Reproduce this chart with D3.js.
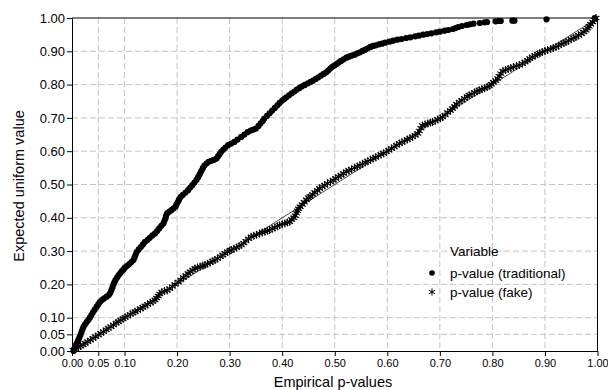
<!DOCTYPE html>
<html>
<head>
<meta charset="utf-8">
<script src="https://cdn.jsdelivr.net/npm/d3@7"></script>
<style>
	body { margin: 0; background: #fff; }
	svg { display: block; font-family: "Liberation Sans", Arial, sans-serif; }
</style>
</head>
<body>
<div id="chart"></div>
<script>
// tick values shared by both axes
const tickValues = [0, 0.05, 0.1, 0.2, 0.3, 0.4, 0.5, 0.6, 0.7, 0.8, 0.9, 1.0];

const seriesNames = ["p-value (traditional)", "p-value (fake)"];

// [empirical p-value, expected uniform value]
const traditional = [
	[0.003,0.000],[0.004,0.006],[0.006,0.012],[0.008,0.019],[0.010,0.026],[0.012,0.033],
	[0.014,0.040],[0.016,0.048],[0.018,0.057],[0.020,0.065],[0.022,0.073],[0.025,0.080],
	[0.028,0.087],[0.031,0.093],[0.034,0.100],[0.037,0.108],[0.040,0.116],[0.043,0.124],
	[0.047,0.133],[0.050,0.140],[0.053,0.147],[0.057,0.153],[0.061,0.158],[0.066,0.163],
	[0.070,0.168],[0.073,0.175],[0.075,0.183],[0.077,0.191],[0.079,0.200],[0.081,0.207],
	[0.083,0.214],[0.086,0.221],[0.089,0.228],[0.092,0.234],[0.095,0.240],[0.098,0.245],
	[0.101,0.251],[0.105,0.256],[0.109,0.261],[0.113,0.267],[0.117,0.273],[0.119,0.281],
	[0.121,0.289],[0.123,0.297],[0.127,0.305],[0.131,0.312],[0.135,0.320],[0.139,0.328],
	[0.144,0.334],[0.148,0.340],[0.153,0.347],[0.158,0.353],[0.162,0.360],[0.166,0.368],
	[0.170,0.376],[0.174,0.383],[0.176,0.391],[0.178,0.399],[0.179,0.406],[0.181,0.413],
	[0.185,0.418],[0.189,0.423],[0.193,0.428],[0.197,0.433],[0.199,0.441],[0.202,0.449],
	[0.204,0.456],[0.207,0.463],[0.211,0.469],[0.216,0.476],[0.221,0.483],[0.225,0.491],
	[0.229,0.498],[0.233,0.506],[0.237,0.514],[0.240,0.522],[0.243,0.531],[0.246,0.540],
	[0.249,0.549],[0.252,0.557],[0.256,0.563],[0.260,0.568],[0.265,0.571],[0.270,0.574],
	[0.275,0.578],[0.278,0.585],[0.281,0.591],[0.284,0.598],[0.288,0.605],[0.292,0.611],
	[0.297,0.618],[0.303,0.623],[0.309,0.628],[0.315,0.635],[0.322,0.643],[0.328,0.650],
	[0.334,0.657],[0.340,0.662],[0.345,0.665],[0.350,0.668],[0.355,0.676],[0.359,0.684],
	[0.363,0.691],[0.366,0.698],[0.371,0.706],[0.376,0.714],[0.381,0.722],[0.386,0.730],
	[0.391,0.738],[0.395,0.745],[0.400,0.752],[0.404,0.757],[0.408,0.762],[0.413,0.768],
	[0.418,0.774],[0.423,0.779],[0.428,0.785],[0.433,0.790],[0.438,0.795],[0.443,0.799],
	[0.449,0.804],[0.454,0.808],[0.459,0.812],[0.464,0.817],[0.469,0.822],[0.474,0.827],
	[0.479,0.832],[0.484,0.837],[0.488,0.843],[0.492,0.849],[0.496,0.854],[0.500,0.858],
	[0.504,0.862],[0.508,0.867],[0.512,0.871],[0.517,0.876],[0.522,0.881],[0.527,0.884],
	[0.532,0.887],[0.538,0.890],[0.543,0.894],[0.548,0.897],[0.553,0.901],[0.558,0.905],
	[0.563,0.909],[0.568,0.913],[0.573,0.916],[0.578,0.918],[0.584,0.921],[0.590,0.923],
	[0.596,0.926],[0.604,0.929],[0.611,0.932],[0.619,0.935],[0.627,0.937],[0.636,0.940],
	[0.644,0.942],[0.653,0.945],[0.660,0.947],[0.668,0.950],[0.676,0.952],[0.684,0.954],
	[0.693,0.957],[0.700,0.959],[0.709,0.962],[0.716,0.964],[0.725,0.967],[0.730,0.970],
	[0.735,0.973],[0.742,0.976],[0.751,0.979],[0.757,0.981],[0.764,0.983],[0.776,0.985],
	[0.785,0.987],[0.790,0.988],[0.806,0.990],[0.812,0.991],[0.816,0.991],[0.838,0.992],
	[0.842,0.992],[0.903,0.996],[0.995,1.000]
];

const fake = [
	[0.002,0.003],[0.007,0.007],[0.012,0.011],[0.016,0.015],[0.021,0.019],[0.025,0.023],
	[0.030,0.028],[0.035,0.033],[0.040,0.038],[0.045,0.043],[0.050,0.048],[0.055,0.053],
	[0.060,0.058],[0.065,0.064],[0.069,0.068],[0.074,0.073],[0.079,0.078],[0.084,0.084],
	[0.088,0.088],[0.093,0.093],[0.097,0.097],[0.101,0.101],[0.106,0.105],[0.111,0.110],
	[0.116,0.114],[0.120,0.118],[0.125,0.122],[0.130,0.127],[0.135,0.131],[0.139,0.135],
	[0.144,0.140],[0.149,0.145],[0.154,0.149],[0.158,0.153],[0.161,0.159],[0.164,0.165],
	[0.167,0.171],[0.171,0.177],[0.176,0.180],[0.181,0.182],[0.186,0.187],[0.191,0.194],
	[0.196,0.200],[0.202,0.207],[0.207,0.214],[0.212,0.221],[0.217,0.227],[0.221,0.233],
	[0.225,0.238],[0.230,0.243],[0.234,0.248],[0.239,0.251],[0.244,0.253],[0.249,0.256],
	[0.253,0.258],[0.258,0.262],[0.263,0.266],[0.268,0.270],[0.272,0.273],[0.277,0.278],
	[0.282,0.283],[0.287,0.288],[0.291,0.293],[0.296,0.298],[0.300,0.301],[0.303,0.303],
	[0.308,0.307],[0.313,0.311],[0.318,0.315],[0.322,0.318],[0.327,0.324],[0.331,0.330],
	[0.336,0.337],[0.341,0.343],[0.346,0.346],[0.351,0.349],[0.357,0.353],[0.362,0.356],
	[0.367,0.358],[0.372,0.361],[0.376,0.363],[0.381,0.367],[0.386,0.371],[0.391,0.375],
	[0.395,0.378],[0.400,0.381],[0.405,0.383],[0.410,0.386],[0.414,0.388],[0.418,0.395],
	[0.422,0.400],[0.425,0.406],[0.427,0.414],[0.429,0.421],[0.431,0.427],[0.434,0.433],
	[0.438,0.440],[0.442,0.447],[0.446,0.454],[0.450,0.460],[0.453,0.464],[0.458,0.470],
	[0.462,0.476],[0.467,0.482],[0.471,0.488],[0.476,0.493],[0.481,0.498],[0.486,0.503],
	[0.492,0.508],[0.497,0.513],[0.502,0.518],[0.507,0.523],[0.512,0.528],[0.517,0.533],
	[0.522,0.538],[0.527,0.542],[0.532,0.546],[0.538,0.550],[0.543,0.554],[0.548,0.558],
	[0.553,0.562],[0.558,0.566],[0.563,0.570],[0.568,0.574],[0.573,0.578],[0.578,0.582],
	[0.583,0.586],[0.588,0.590],[0.593,0.594],[0.598,0.598],[0.603,0.603],[0.608,0.608],
	[0.613,0.613],[0.618,0.618],[0.623,0.623],[0.628,0.627],[0.633,0.631],[0.638,0.635],
	[0.643,0.639],[0.648,0.643],[0.653,0.648],[0.658,0.653],[0.661,0.661],[0.664,0.669],
	[0.667,0.677],[0.672,0.680],[0.677,0.683],[0.682,0.686],[0.686,0.688],[0.691,0.691],
	[0.696,0.695],[0.701,0.699],[0.705,0.703],[0.710,0.709],[0.715,0.716],[0.720,0.722],
	[0.724,0.728],[0.728,0.734],[0.732,0.741],[0.737,0.748],[0.742,0.753],[0.747,0.758],
	[0.752,0.764],[0.756,0.768],[0.761,0.772],[0.766,0.776],[0.771,0.780],[0.775,0.783],
	[0.780,0.786],[0.785,0.789],[0.790,0.793],[0.794,0.796],[0.798,0.801],[0.802,0.807],
	[0.806,0.812],[0.810,0.818],[0.813,0.825],[0.816,0.833],[0.820,0.841],[0.825,0.844],
	[0.830,0.847],[0.835,0.850],[0.840,0.853],[0.846,0.856],[0.851,0.859],[0.857,0.863],
	[0.862,0.868],[0.867,0.873],[0.871,0.878],[0.876,0.883],[0.881,0.887],[0.886,0.891],
	[0.890,0.894],[0.895,0.898],[0.900,0.901],[0.905,0.904],[0.911,0.907],[0.916,0.910],
	[0.921,0.913],[0.926,0.917],[0.931,0.921],[0.936,0.925],[0.940,0.928],[0.945,0.932],
	[0.950,0.936],[0.955,0.940],[0.959,0.943],[0.964,0.948],[0.969,0.953],[0.974,0.958],
	[0.978,0.963],[0.981,0.969],[0.984,0.975],[0.987,0.981],[0.991,0.988],[0.994,0.994],
	[0.997,1.000]
];

// thin reference line y = x
const refLine = [[0, 0], [1, 1]];

const width = 608, height = 390;
const plotLeft = 72, plotRight = 597.5, plotTop = 18, plotBottom = 351;

const svg = d3.select("#chart")
	.append("svg")
	.attr("width", width)
	.attr("height", height);

const x = d3.scaleLinear().domain([0, 1]).range([plotLeft, plotRight]);
const y = d3.scaleLinear().domain([0, 1]).range([plotBottom, plotTop]);
const fmt = d3.format(".2f");

// dashed grid
svg.append("g")
	.selectAll("line")
	.data(tickValues.slice(1, -1))
	.enter().append("line")
	.attr("x1", d => x(d)).attr("x2", d => x(d))
	.attr("y1", plotTop).attr("y2", plotBottom)
	.style("stroke", "#c4c4c4")
	.style("stroke-dasharray", "6,3");

svg.append("g")
	.selectAll("line")
	.data(tickValues.slice(1, -1))
	.enter().append("line")
	.attr("x1", plotLeft).attr("x2", plotRight)
	.attr("y1", d => y(d)).attr("y2", d => y(d))
	.style("stroke", "#c4c4c4")
	.style("stroke-dasharray", "6,3");

// frame top and right
svg.append("line")
	.attr("x1", plotLeft).attr("x2", plotRight).attr("y1", plotTop).attr("y2", plotTop)
	.style("stroke", "#000");
svg.append("line")
	.attr("x1", plotRight).attr("x2", plotRight).attr("y1", plotTop).attr("y2", plotBottom)
	.style("stroke", "#000");

const xAxis = svg.append("g")
	.attr("transform", "translate(0," + plotBottom + ")")
	.call(d3.axisBottom(x).tickValues(tickValues).tickFormat(fmt).tickSize(5).tickSizeOuter(0));
xAxis.selectAll("text")
	.style("font-size", "11px")
	.style("fill", "#000")
	.attr("y", 8);

const yAxis = svg.append("g")
	.attr("transform", "translate(" + plotLeft + ",0)")
	.call(d3.axisLeft(y).tickValues(tickValues).tickFormat(fmt).tickSize(5).tickSizeOuter(0));
yAxis.selectAll("text")
	.style("font-size", "13px")
	.style("fill", "#000")
	.attr("x", -7);

svg.selectAll(".domain, .tick line").style("stroke", "#000");

// axis titles
svg.append("text")
	.attr("x", 333)
	.attr("y", 387)
	.attr("text-anchor", "middle")
	.style("font-size", "14.5px")
	.text("Empirical p-values");

svg.append("text")
	.attr("transform", "translate(24,186) rotate(-90)")
	.attr("text-anchor", "middle")
	.style("font-size", "14.5px")
	.text("Expected uniform value");

// reference line
svg.append("path")
	.datum(refLine)
	.attr("d", d3.line().x(d => x(d[0])).y(d => y(d[1])))
	.style("stroke", "#000")
	.style("stroke-width", 0.7)
	.style("fill", "none");

const asterisk = r => {
	const c = r * Math.cos(Math.PI / 6), s = r * Math.sin(Math.PI / 6);
	return "M0," + (-r) + "L0," + r +
		"M" + (-c) + "," + (-s) + "L" + c + "," + s +
		"M" + (-c) + "," + s + "L" + c + "," + (-s);
};

svg.append("g")
	.selectAll("path")
	.data(fake)
	.enter().append("path")
	.attr("transform", d => "translate(" + x(d[0]) + "," + y(d[1]) + ")")
	.attr("d", asterisk(4))
	.style("stroke", "#000")
	.style("stroke-width", 1.1)
	.style("fill", "none");

svg.append("g")
	.selectAll("circle")
	.data(traditional)
	.enter().append("circle")
	.attr("cx", d => x(d[0]))
	.attr("cy", d => y(d[1]))
	.attr("r", 3.1)
	.style("fill", "#000");

// legend
const legend = svg.append("g").attr("transform", "translate(432,0)");
legend.append("text")
	.attr("x", 18).attr("y", 256)
	.style("font-size", "13.5px")
	.text("Variable");
legend.append("circle")
	.attr("cx", 0).attr("cy", 273)
	.attr("r", 2.8)
	.style("fill", "#000");
legend.append("text")
	.attr("x", 18).attr("y", 278)
	.style("font-size", "13.5px")
	.text(seriesNames[0]);
legend.append("path")
	.attr("transform", "translate(0,292)")
	.attr("d", asterisk(3.6))
	.style("stroke", "#000")
	.style("fill", "none");
legend.append("text")
	.attr("x", 18).attr("y", 297)
	.style("font-size", "13.5px")
	.text(seriesNames[1]);
</script>
</body>
</html>
